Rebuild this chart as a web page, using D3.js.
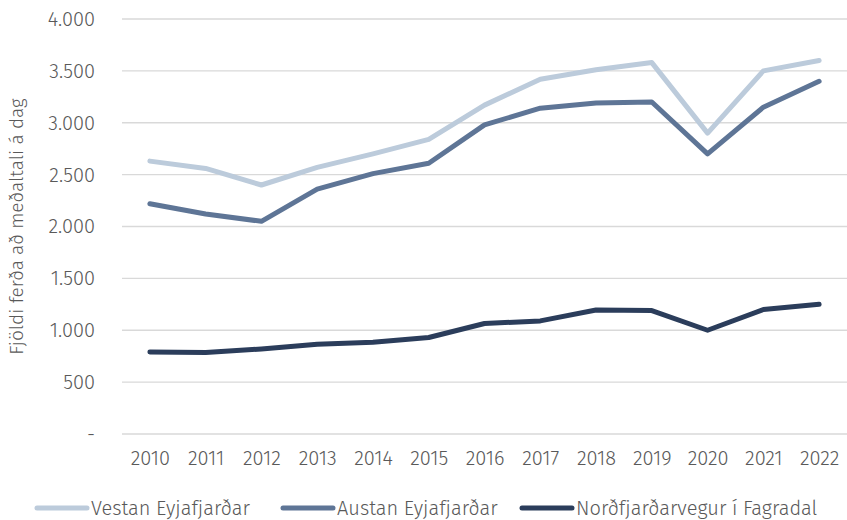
<!DOCTYPE html>
<html>
<head>
<meta charset="utf-8">
<script src="https://cdn.jsdelivr.net/npm/d3@7"></script>
<style>
  body { margin: 0; background: #fff; }
  text { font-family: "Fira Sans", "Open Sans", sans-serif; font-weight: 300; fill: #595959; }
</style>
</head>
<body>
<div id="chart"></div>
<script>
const years = ['2010','2011','2012','2013','2014','2015','2016','2017','2018','2019','2020','2021','2022'];
const vestan = [2630, 2560, 2400, 2570, 2700, 2840, 3170, 3420, 3510, 3580, 2900, 3500, 3600];
const austan = [2220, 2120, 2050, 2360, 2510, 2610, 2980, 3140, 3190, 3200, 2700, 3150, 3400];
const nordfj = [790, 785, 820, 865, 885, 930, 1065, 1090, 1195, 1190, 1000, 1200, 1250];
const seriesNames = ['Vestan Eyjafjarðar', 'Austan Eyjafjarðar', 'Norðfjarðarvegur í Fagradal'];
const yTicks = [0, 500, 1000, 1500, 2000, 2500, 3000, 3500, 4000];

const width = 847, height = 520;
const margin = { top: 19, right: 0, bottom: 86, left: 122 };
const colors = ['#bccbdb', '#5e7596', '#2b3d5b'];
const series = [vestan, austan, nordfj].map((values, i) => ({ name: seriesNames[i], values, color: colors[i] }));

const svg = d3.select('#chart').append('svg').attr('width', width).attr('height', height);

const x = d3.scalePoint().domain(years).range([margin.left, width - margin.right]).padding(0.5);
const y = d3.scaleLinear().domain([0, 4000]).range([height - margin.bottom, margin.top]);

const fmt = v => v === 0 ? '-' : d3.format(',')(v).replace(/,/g, '.');

// gridlines
svg.append('g')
  .selectAll('line')
  .data(yTicks)
  .join('line')
  .attr('x1', margin.left).attr('x2', width - margin.right)
  .attr('y1', d => y(d)).attr('y2', d => y(d))
  .attr('stroke', '#d9d9d9').attr('stroke-width', 1.3);

// y axis labels
const yAxis = svg.append('g')
  .attr('transform', `translate(${margin.left - 27},0)`)
  .call(d3.axisLeft(y).tickValues(yTicks).tickFormat(fmt).tickSize(0).tickPadding(0));
yAxis.select('.domain').remove();
yAxis.selectAll('text').style('font-size', '20px').attr('fill', '#595959');

// x axis labels
const xAxis = svg.append('g')
  .attr('transform', `translate(0,${y(0)})`)
  .call(d3.axisBottom(x).tickSize(0).tickPadding(17));
xAxis.select('.domain').remove();
xAxis.selectAll('text').style('font-size', '20px').attr('fill', '#595959');

// y title
svg.append('text')
  .attr('transform', `translate(23,${(y(0) + y(4000)) / 2}) rotate(-90)`)
  .attr('text-anchor', 'middle')
  .style('font-size', '19px')
  .text('Fjöldi ferða að meðaltali á dag');

const line = d3.line().x((d, i) => x(years[i])).y(d => y(d));

svg.append('g')
  .selectAll('path')
  .data(series)
  .join('path')
  .attr('d', d => line(d.values))
  .attr('fill', 'none')
  .attr('stroke', d => d.color)
  .attr('stroke-width', 5)
  .attr('stroke-linecap', 'round')
  .attr('stroke-linejoin', 'round');

// legend
const legendX = [37, 283, 522];
const legend = svg.append('g')
  .selectAll('g')
  .data(series)
  .join('g')
  .attr('transform', (d, i) => `translate(${legendX[i]},508)`);
legend.append('line')
  .attr('x1', 0).attr('x2', 50)
  .attr('stroke', d => d.color).attr('stroke-width', 5).attr('stroke-linecap', 'round');
legend.append('text')
  .attr('x', 54).attr('dy', '0.35em')
  .style('font-size', '20px')
  .text(d => d.name);
</script>
</body>
</html>
